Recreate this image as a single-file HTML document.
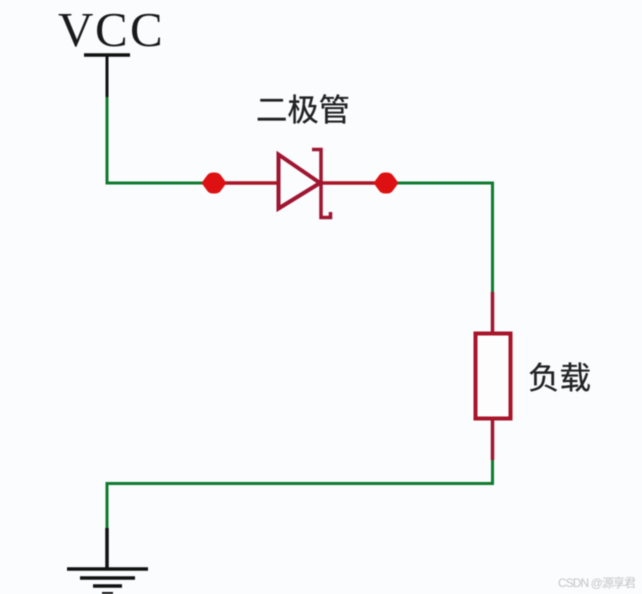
<!DOCTYPE html>
<html>
<head>
<meta charset="utf-8">
<style>
html,body{margin:0;padding:0;background:#fafcfe;}
svg{display:block;filter:blur(.4px);}
</style>
</head>
<body>
<svg width="642" height="594" viewBox="0 0 642 594" xmlns="http://www.w3.org/2000/svg">
<rect width="642" height="594" fill="#fafcfe"/>
<text x="58 95 130" y="46" font-family="'Liberation Serif',serif" font-size="49" fill="#1a1a1a">VCC</text>
<g fill="none" stroke-linecap="butt">
<path d="M84 55H130" stroke="#111" stroke-width="3.500"/>
<path d="M107 55V98" stroke="#111" stroke-width="3"/>
<path d="M107 97V183H204" stroke="#107a30" stroke-width="3"/>
<path d="M396 183H492.500V293" stroke="#107a30" stroke-width="3"/>
<path d="M492.500 459V483.500H107V529" stroke="#107a30" stroke-width="3"/>
<path d="M107 528V569" stroke="#111" stroke-width="3.500"/>
<path d="M67 569H148" stroke="#111" stroke-width="3.500"/>
<path d="M80 578H135" stroke="#111" stroke-width="3.500"/>
<path d="M93 586H122" stroke="#111" stroke-width="3.500"/>
<path d="M102 593.500H113" stroke="#111" stroke-width="3"/>
<path d="M214 183H278M320 183H386" stroke="#a81525" stroke-width="3.500"/>
<path d="M278.500 154.500V208.500L320 183Z" stroke="#a01530" stroke-width="4"/>
<path d="M312 149.500H321V217.500H330.500V212" stroke="#a01530" stroke-width="3.500"/>
<path d="M492.500 292V333M492.500 419V460" stroke="#a01530" stroke-width="3.500"/>
<rect x="475.500" y="333.500" width="35" height="85" stroke="#a81528" stroke-width="4" fill="#fdfdfe"/>
</g>
<path d="M201.500 183L207 175.500Q209 172.500 213 172.500H215Q219 172.500 221 175.500L226.500 183L221 190.500Q219 193.500 215 193.500H213Q209 193.500 207 190.500Z" fill="#dd1111"/>
<path d="M373.500 183L379 175.500Q381 172.500 385 172.500H387Q391 172.500 393 175.500L398.500 183L393 190.500Q391 193.500 387 193.500H385Q381 193.500 379 190.500Z" fill="#dd1111"/>
<text x="256" y="121" font-family="'Liberation Sans','Noto Sans CJK SC',sans-serif" font-size="31" fill="#222" stroke="#222" stroke-width=".3" textLength="94" lengthAdjust="spacingAndGlyphs">二极管</text>
<text x="528" y="389" font-family="'Liberation Sans','Noto Sans CJK SC',sans-serif" font-size="31" fill="#222" stroke="#222" stroke-width=".3" textLength="63" lengthAdjust="spacingAndGlyphs">负载</text>
<text x="558" y="587" font-family="'Liberation Sans','Noto Sans CJK SC',sans-serif" font-size="12" fill="#c4c4c4" textLength="78" lengthAdjust="spacing">CSDN @源享君</text>
</svg>
</body>
</html>
